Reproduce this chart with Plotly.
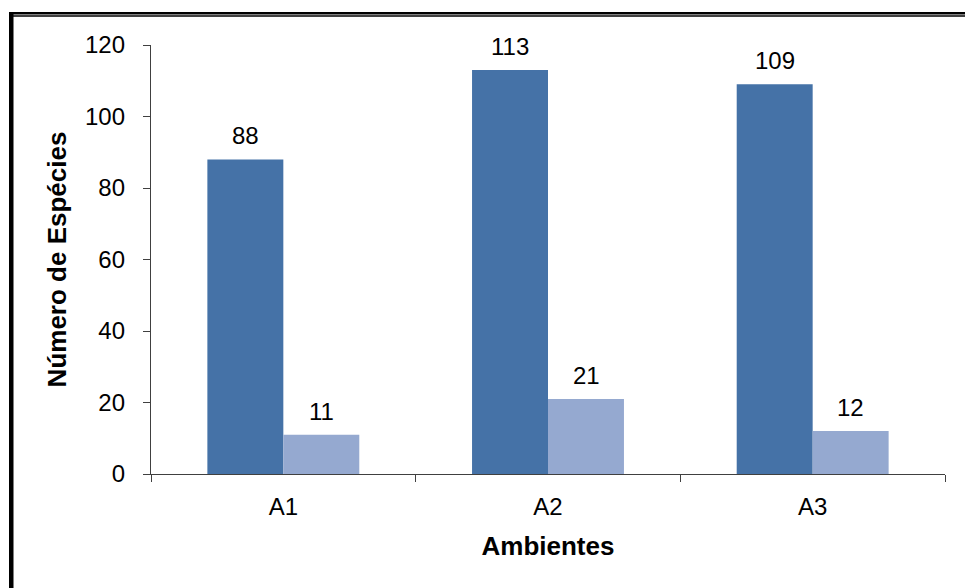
import plotly.graph_objects as go

categories = ["A1", "A2", "A3"]
series1 = [88, 113, 109]
series2 = [11, 21, 12]
y_ticks = [0, 20, 40, 60, 80, 100, 120]

W, H = 965, 588
L, R, T, B = 151, 20, 45, 114
PW, PH = W - L - R, H - T - B

def px_x(p):
    return (p - L) / PW

def px_y(p):
    return (H - B - p) / PH

dark = "#4572A7"
light = "#95A9D0"
font_family = "Liberation Sans, Arial, sans-serif"
BAR_PX = 76  # width of one bar in pixels, for label offsets

fig = go.Figure()
fig.add_trace(go.Bar(x=categories, y=series1, marker=dict(color=dark, line=dict(width=0)), name="s1"))
fig.add_trace(go.Bar(x=categories, y=series2, marker=dict(color=light, line=dict(width=0)), name="s2"))

annotations = []
for cat, v in zip(categories, series1):
    annotations.append(dict(x=cat, y=v, xref="x", yref="y", text=str(v), showarrow=False,
                            xshift=-BAR_PX / 2, yanchor="bottom", yshift=8,
                            font=dict(size=24, color="black", family=font_family)))
for cat, v in zip(categories, series2):
    annotations.append(dict(x=cat, y=v, xref="x", yref="y", text=str(v), showarrow=False,
                            xshift=BAR_PX / 2, yanchor="bottom", yshift=8,
                            font=dict(size=24, color="black", family=font_family)))

shapes = [
    dict(type="rect", xref="paper", yref="paper", x0=px_x(9), x1=px_x(13.5), y0=px_y(588), y1=px_y(12),
         fillcolor="black", line=dict(width=0), layer="above"),
    dict(type="rect", xref="paper", yref="paper", x0=px_x(9), x1=px_x(965), y0=px_y(14.5), y1=px_y(12),
         fillcolor="black", line=dict(width=0), layer="above"),
    dict(type="rect", xref="paper", yref="paper", x0=px_x(13), x1=px_x(965), y0=px_y(16.7), y1=px_y(15.3),
         fillcolor="black", line=dict(width=0), layer="above"),
]

fig.update_layout(
    width=W, height=H,
    margin=dict(l=L, r=R, t=T, b=B, pad=0),
    paper_bgcolor="white", plot_bgcolor="white",
    barmode="group", bargap=0.426, bargroupgap=0,
    showlegend=False,
    font=dict(family=font_family, color="black", size=20),
    xaxis=dict(
        type="category", showline=True, linecolor="#404040", linewidth=1.3,
        ticks="outside", tickson="boundaries", ticklen=7, tickcolor="#404040", tickwidth=1.3,
        tickfont=dict(size=24, family=font_family, color="black"),
        ticklabelstandoff=11,
        title=dict(text="<b>Ambientes</b>", font=dict(size=26, family=font_family, color="black"), standoff=17),
        showgrid=False, zeroline=False,
    ),
    yaxis=dict(
        range=[0, 120], tickvals=y_ticks, showline=True, linecolor="#404040", linewidth=1.3,
        ticks="outside", ticklen=7, tickcolor="#404040", tickwidth=1.3,
        tickfont=dict(size=24, family=font_family, color="black"),
        ticklabelstandoff=13,
        title=dict(text="<b>Número de Espécies</b>", font=dict(size=26, family=font_family, color="black"), standoff=10),
        showgrid=False, zeroline=False,
    ),
    shapes=shapes,
    annotations=annotations,
)

fig.write_html("out.html", config={"displayModeBar": False},
               post_script="document.body.style.margin='0';document.body.style.padding='0';")
